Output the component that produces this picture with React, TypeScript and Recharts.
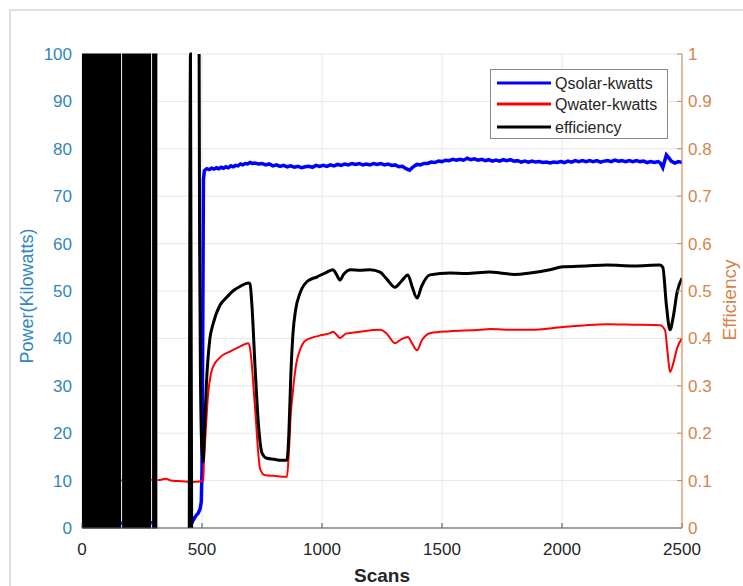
import React from 'react';
import { ComposedChart, Line, Area, XAxis, YAxis, CartesianGrid, Legend } from 'recharts';

const FONT = '"Liberation Sans", Arial, Helvetica, sans-serif';

const xTicks = [0, 500, 1000, 1500, 2000, 2500];
const powerTicks = [0, 10, 20, 30, 40, 50, 60, 70, 80, 90, 100];
const effTicks = [0, 0.1, 0.2, 0.3, 0.4, 0.5, 0.6, 0.7, 0.8, 0.9, 1];

const seriesNames = ['Qsolar-kwatts', 'Qwater-kwatts', 'efficiency'];
const seriesColors = ['#0000ff', '#ff0000', '#000000'];

// [scan, kW] (only the parts not hidden behind the saturated efficiency block)
const qsolarPts: [number, number | null][] = [
  [163, 1.0], [167, 1.0], [168, null], [288, 1.1], [292, 1.1], [293, null],
  [447, 0.2], [455, 0.8], [465, 1.8], [475, 2.6], [485, 3.2], [492, 4.0], [497, 5.5], [500, 12],
  [503, 40], [506, 73.5], [510, 75.4], [520, 75.8], [530, 75.6], [540, 75.9], [550, 75.7], [560, 76.0],
  [570, 75.8], [580, 76.1], [590, 75.9], [600, 76.2], [610, 76.0], [620, 76.4], [630, 76.2], [640, 76.5],
  [650, 76.4], [660, 76.8], [670, 76.6], [680, 76.9], [690, 76.8], [700, 77.1], [710, 76.9], [720, 77.0],
  [735, 76.8], [750, 76.9], [765, 76.6], [780, 76.8], [795, 76.4], [810, 76.6], [825, 76.3], [840, 76.5],
  [855, 76.2], [870, 76.4], [885, 76.1], [900, 76.3], [915, 76.0], [930, 76.2], [945, 76.3], [960, 76.1],
  [975, 76.5], [990, 76.3], [1005, 76.5], [1020, 76.3], [1035, 76.6], [1050, 76.4], [1065, 76.7], [1080, 76.5],
  [1095, 76.8], [1110, 76.6], [1125, 76.9], [1140, 76.7], [1155, 76.9], [1170, 76.6], [1185, 76.8], [1200, 76.6],
  [1215, 76.9], [1230, 76.7], [1245, 76.9], [1260, 76.6], [1275, 76.8], [1290, 76.5], [1305, 76.6], [1320, 76.2],
  [1335, 76.3], [1350, 75.8], [1365, 75.5], [1380, 76.2], [1395, 76.7], [1410, 76.6], [1425, 76.9], [1440, 76.9],
  [1455, 77.2], [1470, 77.1], [1485, 77.4], [1500, 77.3], [1515, 77.6], [1530, 77.5], [1545, 77.8], [1560, 77.6],
  [1575, 77.8], [1590, 77.6], [1605, 78.0], [1620, 77.7], [1635, 77.9], [1650, 77.6], [1665, 77.8], [1680, 77.5],
  [1695, 77.7], [1710, 77.4], [1725, 77.6], [1740, 77.4], [1755, 77.7], [1770, 77.5], [1785, 77.7], [1800, 77.4],
  [1815, 77.5], [1830, 77.2], [1845, 77.4], [1860, 77.2], [1875, 77.4], [1890, 77.2], [1905, 77.3], [1920, 77.1],
  [1935, 77.2], [1950, 77.0], [1965, 77.2], [1980, 77.1], [1995, 77.3], [2010, 77.1], [2025, 77.4], [2040, 77.2],
  [2055, 77.5], [2070, 77.3], [2085, 77.5], [2100, 77.3], [2115, 77.5], [2130, 77.3], [2145, 77.5], [2160, 77.2],
  [2175, 77.4], [2190, 77.5], [2205, 77.3], [2220, 77.6], [2235, 77.4], [2250, 77.5], [2265, 77.3], [2280, 77.5],
  [2295, 77.3], [2310, 77.5], [2325, 77.3], [2340, 77.4], [2355, 77.1], [2370, 77.3], [2385, 77.1], [2400, 77.3],
  [2410, 77.0], [2420, 76.0], [2428, 77.5], [2435, 78.7], [2445, 78.1], [2455, 77.4], [2470, 77.0], [2485, 77.3],
  [2500, 77.1],
];

// [scan, kW]
const qwaterPts: [number, number | null][] = [
  [163, 10.1], [167, 10.1], [168, null], [288, 10.2], [292, 10.2], [293, null],
  [314, 10.1], [330, 10.2], [350, 10.4], [370, 10.0], [400, 9.9], [430, 9.8], [460, 9.7], [490, 9.8],
  [505, 10.0], [508, 14], [515, 20], [525, 28], [537, 32.5], [546, 34], [575, 36], [620, 37.3],
  [660, 38.3], [692, 39], [700, 38], [720, 26], [742, 12.5], [760, 11.2], [800, 11.0], [854, 10.8],
  [862, 16], [870, 24], [879, 29], [894, 35], [908, 37.5], [930, 39.5], [950, 40], [1000, 40.7],
  [1033, 41.1], [1046, 41.4], [1060, 40.8], [1075, 40.1], [1100, 41.0], [1158, 41.4], [1242, 41.8], [1270, 41.0],
  [1304, 39.0], [1330, 39.8], [1358, 40.3], [1375, 39.0], [1396, 37.5], [1415, 39.5], [1450, 41.1], [1533, 41.5],
  [1658, 41.8], [1700, 42.0], [1800, 41.8], [1867, 41.8], [2004, 42.4], [2100, 42.8], [2188, 43.0], [2300, 42.9],
  [2408, 42.8], [2429, 41.8], [2440, 37], [2450, 32.9], [2465, 35], [2480, 38], [2500, 40],
];

// [scan, efficiency]
const effPts: [number, number | null][] = [
  [447, 0], [452, 1], [457, 0], [470, null],
  [488, 1], [490, 0.6], [494, 0.3], [500, 0.16], [505, 0.14], [510, 0.2], [518, 0.3], [533, 0.4],
  [546, 0.43], [575, 0.47], [600, 0.485], [629, 0.5], [660, 0.51], [692, 0.517], [700, 0.515], [708, 0.47],
  [721, 0.34], [735, 0.22], [750, 0.158], [770, 0.147], [800, 0.145], [830, 0.143], [854, 0.143], [862, 0.2],
  [870, 0.32], [879, 0.41], [890, 0.46], [908, 0.495], [938, 0.52], [980, 0.53], [1021, 0.54], [1046, 0.545],
  [1060, 0.535], [1075, 0.523], [1090, 0.535], [1120, 0.545], [1158, 0.544], [1200, 0.545], [1242, 0.54], [1270, 0.525],
  [1304, 0.508], [1330, 0.52], [1358, 0.534], [1375, 0.51], [1396, 0.485], [1415, 0.51], [1450, 0.534], [1533, 0.538],
  [1600, 0.537], [1700, 0.54], [1742, 0.538], [1800, 0.535], [1867, 0.538], [1950, 0.545], [2004, 0.551], [2100, 0.553],
  [2188, 0.555], [2300, 0.553], [2408, 0.555], [2420, 0.55], [2435, 0.47], [2450, 0.418], [2465, 0.45], [2479, 0.496],
  [2500, 0.527],
];

// saturated efficiency region (clipped between 0 and 1)
const effBandPts: [number, [number, number] | null][] = [
  [0, [0, 1]], [163, [0, 1]], [165, null], [167, [0, 1]], [288, [0, 1]], [290, null], [292, [0, 1]], [314, [0, 1]],
];

const toRows = (pts: [number, any][], key: string) => pts.map(([x, v]) => ({ x, [key]: v }));

const solarData = toRows(qsolarPts, 'qsolar');
const waterData = toRows(qwaterPts, 'qwater');
const effData = toRows(effPts, 'eff');
const bandData = toRows(effBandPts, 'band');

const LEFT_COLOR = '#2f86c0';
const RIGHT_COLOR = '#d4844c';

const LegendBox = () => (
  <div style={{ width: 178, height: 70, boxSizing: 'border-box', border: '1px solid #8a8a8a', background: '#fff' }}>
    <svg width={176} height={68} style={{ display: 'block' }}>
      {seriesNames.map((name, i) => {
        const cy = [13, 34, 57][i];
        return (
          <g key={name}>
            <line x1={6} x2={60} y1={cy} y2={cy} stroke={seriesColors[i]} strokeWidth={3} />
            <text x={64} y={cy} dy="0.35em" fontSize={16} fontFamily={FONT} fill="#262626">{name}</text>
          </g>
        );
      })}
    </svg>
  </div>
);

export default function App() {
  return (
    <div style={{ position: 'absolute', left: 0, top: 0, width: 743, height: 586, background: '#fff' }}>
      <ComposedChart width={743} height={586} margin={{ top: 54, right: 10, bottom: 10, left: 10 }}>
        <rect x={10} y={10} width={760} height={600} fill="none" stroke="#d6d6d6" strokeWidth={1.5} />
        <CartesianGrid yAxisId="left" stroke="#e6e6e6" strokeWidth={1} />
        <XAxis
          type="number"
          dataKey="x"
          domain={[0, 2500]}
          ticks={xTicks}
          allowDataOverflow
          height={48}
          tickSize={-5}
          tickMargin={20}
          stroke="#555"
          tickLine={{ stroke: '#555' }}
          axisLine={{ stroke: '#555' }}
          tick={{ fill: '#262626', fontSize: 17, fontFamily: FONT }}
          label={{
            content: () => (
              <text x={382} y={582} textAnchor="middle" fontSize={19} fontWeight="bold" fontFamily={FONT} fill="#262626">Scans</text>
            ),
          }}
        />
        <YAxis
          yAxisId="left"
          orientation="left"
          domain={[0, 100]}
          ticks={powerTicks}
          width={72}
          tickSize={0}
          tickMargin={10}
          axisLine={false}
          tickLine={false}
          tick={{ fill: LEFT_COLOR, fontSize: 17, fontFamily: FONT }}
          label={{
            content: () => (
              <text x={33} y={296} transform="rotate(-90 33 296)" textAnchor="middle" fontSize={18} fontFamily={FONT} fill={LEFT_COLOR}>Power(Kilowatts)</text>
            ),
          }}
        />
        <YAxis
          yAxisId="right"
          orientation="right"
          domain={[0, 1]}
          ticks={effTicks}
          width={51}
          tickSize={-5}
          tickMargin={11}
          axisLine={{ stroke: RIGHT_COLOR }}
          tickLine={{ stroke: RIGHT_COLOR }}
          tick={{ fill: RIGHT_COLOR, fontSize: 17, fontFamily: FONT }}
          label={{
            content: () => (
              <text x={736} y={300} transform="rotate(-90 736 300)" textAnchor="middle" fontSize={19} fontFamily={FONT} fill={RIGHT_COLOR}>Efficiency</text>
            ),
          }}
        />
        <Line yAxisId="left" data={solarData} dataKey="qsolar" name={seriesNames[0]} stroke={seriesColors[0]} strokeWidth={3.5} dot={false} activeDot={false} isAnimationActive={false} connectNulls={false} />
        <Line yAxisId="left" type="monotone" data={waterData} dataKey="qwater" name={seriesNames[1]} stroke={seriesColors[1]} strokeWidth={2} dot={false} activeDot={false} isAnimationActive={false} connectNulls={false} />
        <Area yAxisId="right" data={bandData} dataKey="band" name="efficiency-band" stroke="#000" strokeWidth={1} fill="#000" fillOpacity={1} isAnimationActive={false} connectNulls={false} dot={false} activeDot={false} legendType="none" />
        <Line yAxisId="right" type="monotone" data={effData} dataKey="eff" name={seriesNames[2]} stroke={seriesColors[2]} strokeWidth={3} dot={false} activeDot={false} isAnimationActive={false} connectNulls={false} />
        <Legend
          layout="horizontal"
          verticalAlign="middle"
          align="center"
          content={() => <LegendBox />}
          wrapperStyle={{ position: 'absolute', left: 490, top: 69, width: 178, height: 70 }}
        />
      </ComposedChart>
    </div>
  );
}
